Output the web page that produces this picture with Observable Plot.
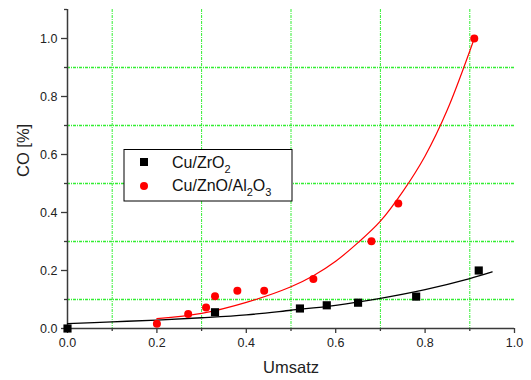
<!DOCTYPE html>
<html>
<head>
<meta charset="utf-8">
<script src="https://cdn.jsdelivr.net/npm/d3@7"></script>
<script src="https://cdn.jsdelivr.net/npm/@observablehq/plot@0.6"></script>
<style>
  html, body { margin: 0; padding: 0; background: #fff; }
  #chart { position: relative; width: 531px; height: 380px; }
</style>
</head>
<body>
<div id="chart"></div>
<script>
// Cu/ZrO2 measurements (black squares)
const zrX = [0.00, 0.33, 0.52, 0.58, 0.65, 0.78, 0.92];
const zrY = [0.000, 0.056, 0.069, 0.080, 0.089, 0.110, 0.200];
// Cu/ZnO/Al2O3 measurements (red circles)
const znX = [0.20, 0.27, 0.31, 0.33, 0.38, 0.44, 0.55, 0.68, 0.74, 0.91];
const znY = [0.016, 0.050, 0.072, 0.111, 0.130, 0.130, 0.171, 0.301, 0.431, 1.000];
// fitted curves
const zrFitX = [0.00, 0.10, 0.20, 0.30, 0.40, 0.50, 0.60, 0.70, 0.80, 0.90, 0.95];
const zrFitY = [0.017, 0.023, 0.029, 0.037, 0.047, 0.063, 0.080, 0.104, 0.134, 0.172, 0.195];
const znFitX = [0.20, 0.30, 0.40, 0.50, 0.55, 0.60, 0.65, 0.70, 0.75, 0.80, 0.85, 0.91];
const znFitY = [0.034, 0.052, 0.090, 0.144, 0.182, 0.232, 0.296, 0.370, 0.472, 0.595, 0.755, 1.000];
// ticks
const majorX = [0, 0.2, 0.4, 0.6, 0.8, 1.0];
const minorX = [0.1, 0.3, 0.5, 0.7, 0.9];
const majorY = [0, 0.2, 0.4, 0.6, 0.8, 1.0];
const minorY = [0.1, 0.3, 0.5, 0.7, 0.9, 1.1];
const gridX = [0.1, 0.3, 0.5, 0.7, 0.9];
const gridY = [0.1, 0.3, 0.5, 0.7, 0.9];
const seriesNames = ["Cu/ZrO", "Cu/ZnO/Al"];

const zr = zrX.map((x, i) => ({x, y: zrY[i]}));
const zn = znX.map((x, i) => ({x, y: znY[i]}));
const zrFit = zrFitX.map((x, i) => ({x, y: zrFitY[i]}));
const znFit = znFitX.map((x, i) => ({x, y: znFitY[i]}));

const axisColor = "#3a3a3a";
const gridColor = "#33ee33";
const font = "'Liberation Sans', Arial, sans-serif";

const plot = Plot.plot({
  width: 531,
  height: 380,
  marginLeft: 67,
  marginRight: 17,
  marginTop: 9,
  marginBottom: 52,
  style: {fontFamily: font, fontSize: "12.5px", color: "#222", background: "#fff"},
  x: {domain: [0, 1], label: null},
  y: {domain: [0, 1.1], label: null},
  marks: [
    Plot.gridX(gridX, {stroke: gridColor, strokeOpacity: 1, strokeWidth: 1, strokeDasharray: "3,1,1,1"}),
    Plot.gridY(gridY, {stroke: gridColor, strokeOpacity: 1, strokeWidth: 1.5, strokeDasharray: "3,1,1,1"}),
    Plot.axisX(majorX, {tickSize: 5, tickPadding: 5, tickFormat: d3.format(".1f"), stroke: axisColor, strokeWidth: 1.3, fill: "#222", fontSize: 12.5}),
    Plot.axisX(minorX, {tickSize: 3, tickFormat: () => "", stroke: axisColor, strokeWidth: 1.3}),
    Plot.axisY(majorY, {tickSize: 6, tickPadding: 4, tickFormat: d3.format(".1f"), stroke: axisColor, strokeWidth: 1.3, fill: "#222", fontSize: 12.5}),
    Plot.axisY(minorY, {tickSize: 3, tickFormat: () => "", stroke: axisColor, strokeWidth: 1.3}),
    Plot.ruleY([0], {stroke: axisColor, strokeWidth: 1.5}),
    Plot.ruleX([0], {stroke: axisColor, strokeWidth: 1.5}),
    Plot.text(["Umsatz"], {frameAnchor: "bottom", dy: 44, fontSize: 16.5, fill: "#222", lineAnchor: "bottom"}),
    Plot.text(["CO [%]"], {frameAnchor: "left", rotate: -90, dx: -44, dy: 8, fontSize: 16.5, fill: "#222"}),
    Plot.line(zrFit, {x: "x", y: "y", stroke: "#000", strokeWidth: 1.3, curve: "catmull-rom"}),
    Plot.line(znFit, {x: "x", y: "y", stroke: "#ff0000", strokeWidth: 1.2, curve: "catmull-rom"}),
    Plot.dot(zr, {x: "x", y: "y", symbol: "square", r: 4.6, fill: "#000", stroke: "none"}),
    Plot.dot(zn, {x: "x", y: "y", symbol: "circle", r: 4, fill: "#ff0000", stroke: "none"})
  ]
});

document.getElementById("chart").appendChild(plot);

// legend box inside the plot area
const svg = d3.select(plot);
const lg = svg.append("g").attr("font-family", font).attr("font-size", 16)
  .attr("fill", "#111").attr("text-anchor", "start");
lg.append("rect").attr("x", 124).attr("y", 149.5).attr("width", 168).attr("height", 51.5)
  .attr("fill", "#fff").attr("stroke", "#000").attr("stroke-width", 1);
lg.append("rect").attr("x", 140).attr("y", 158).attr("width", 8).attr("height", 8).attr("fill", "#000");
lg.append("circle").attr("cx", 144).attr("cy", 186).attr("r", 4).attr("fill", "#ff0000");
const t1 = lg.append("text").attr("x", 172).attr("y", 168).attr("text-anchor", "start");
t1.append("tspan").text(seriesNames[0]);
t1.append("tspan").attr("font-size", 11).attr("dy", 5).text("2");
const t2 = lg.append("text").attr("x", 172).attr("y", 191).attr("text-anchor", "start");
t2.append("tspan").text(seriesNames[1]);
t2.append("tspan").attr("font-size", 11).attr("dy", 5).text("2");
t2.append("tspan").attr("dy", -5).text("O");
t2.append("tspan").attr("font-size", 11).attr("dy", 5).text("3");
</script>
</body>
</html>
